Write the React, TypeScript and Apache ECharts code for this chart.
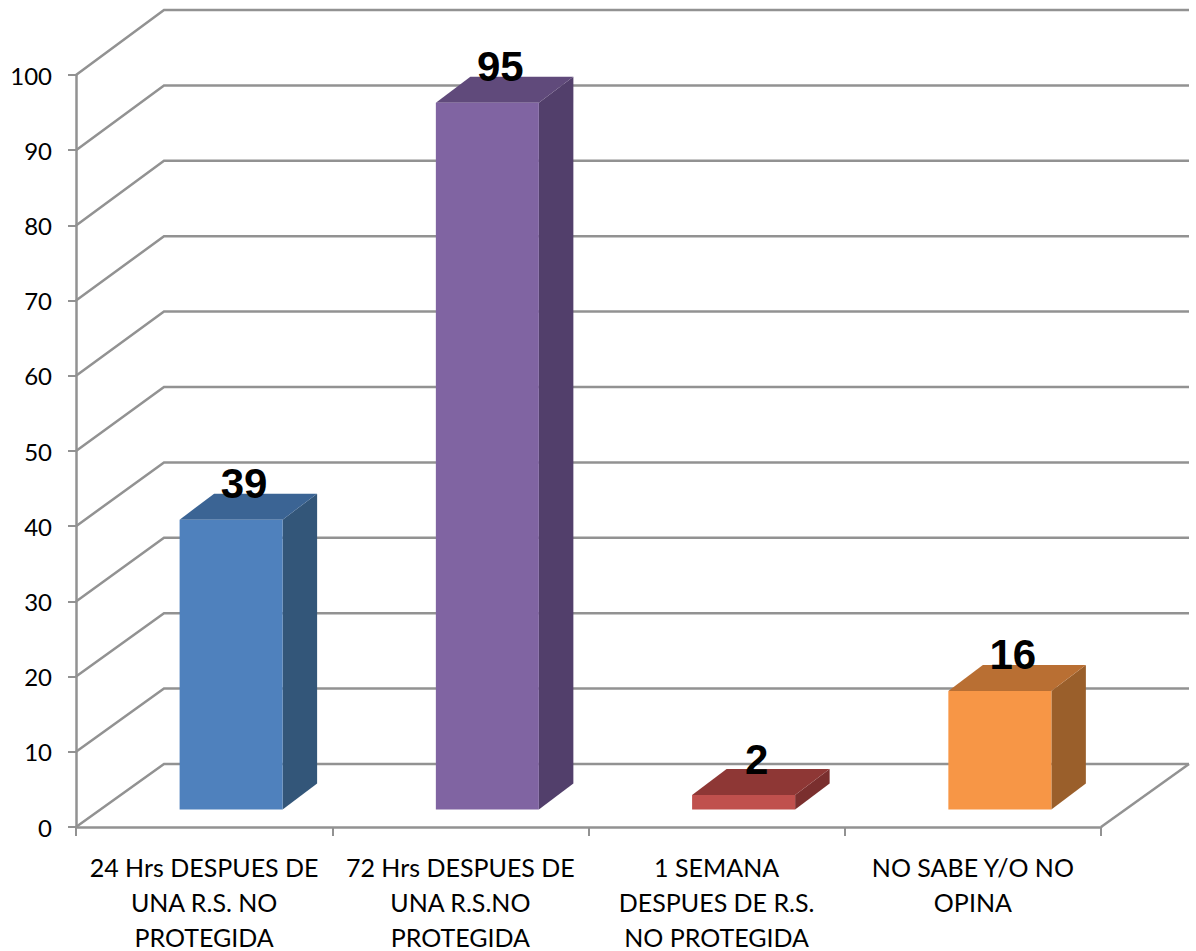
import React, { useEffect, useRef } from "react";
import * as echarts from "echarts";

const categories = [
  "24 Hrs DESPUES DE\nUNA R.S. NO\nPROTEGIDA",
  "72 Hrs DESPUES DE\nUNA R.S.NO\nPROTEGIDA",
  "1 SEMANA\nDESPUES DE R.S.\nNO PROTEGIDA",
  "NO SABE Y/O NO\nOPINA",
];
const values = [39, 95, 2, 16];
const frontColors = ["#4F81BD", "#8064A2", "#C0504D", "#F79646"];
const topColors = ["#3B6494", "#604A7B", "#8E3735", "#B96F33"];
const sideColors = ["#335679", "#523F6B", "#7A2F2E", "#9A5F2B"];
const gridValues = [0, 10, 20, 30, 40, 50, 60, 70, 80, 90, 100];

const AXIS_COLOR = "#929292";
const FONT = "Lato, 'Noto Sans', sans-serif";

// Projection of the 3D box: wall depth and the offset of the bars inside it.
const WALL_DX = 88;
const WALL_DY = -63;
const WALL_DY_TOP = -65;
const BAR_DX = 34.5;
const BAR_DY = -26;

export default function App() {
  const ref = useRef<HTMLDivElement>(null);

  useEffect(() => {
    document.body.style.margin = "0";
    const chart = echarts.init(ref.current!, undefined, { renderer: "svg" });

    const lineStyle = { stroke: AXIS_COLOR, lineWidth: 2.5, fill: "none" };

    const renderWall = (params: any, api: any) => {
      const v = api.value(1);
      const cs = params.coordSys;
      const y = api.coord([0, v])[1];
      const dy = WALL_DY + (WALL_DY_TOP - WALL_DY) * (v / 100);
      const left = cs.x;
      const right = cs.x + cs.width;
      const children: any[] = [
        {
          type: "polyline",
          shape: {
            points: [
              [left, y],
              [left + WALL_DX, y + dy],
              [right + WALL_DX, y + dy],
            ],
          },
          style: lineStyle,
        },
      ];
      if (v === 0) {
        children.push({
          type: "line",
          shape: { x1: right, y1: y, x2: right + WALL_DX, y2: y + dy },
          style: lineStyle,
        });
      }
      return { type: "group", children };
    };

    const renderBar = (params: any, api: any) => {
      const i = params.dataIndex;
      const v = api.value(1);
      const centre = api.coord([api.value(0), 0])[0];
      const band = api.size([1, 0])[0];
      const zeroY = api.coord([0, 0])[1];
      const valueY = api.coord([0, v])[1];
      const x0 = centre - band * 0.0957;
      const x1 = x0 + band * 0.402;
      const bottom = zeroY - 17.5;
      // The bars stand further back than the front plane, so they scale slightly smaller.
      const top = zeroY - 17 + (valueY - zeroY) * 0.99;
      const face = (points: number[][], fill: string) => ({
        type: "polygon",
        shape: { points },
        style: { fill, stroke: "none" },
      });
      return {
        type: "group",
        children: [
          face(
            [
              [x1, top],
              [x1 + BAR_DX, top + BAR_DY],
              [x1 + BAR_DX, bottom + BAR_DY],
              [x1, bottom],
            ],
            sideColors[i],
          ),
          face(
            [
              [x0, top],
              [x0 + BAR_DX, top + BAR_DY],
              [x1 + BAR_DX, top + BAR_DY],
              [x1, top],
            ],
            topColors[i],
          ),
          face(
            [
              [x0, top],
              [x1, top],
              [x1, bottom],
              [x0, bottom],
            ],
            frontColors[i],
          ),
          {
            type: "text",
            z2: 10,
            style: {
              text: String(v),
              x: (x0 + x1) / 2 + 13,
              y: top - 36,
              align: "center",
              verticalAlign: "middle",
              font: "bold 42px 'Liberation Sans', Arial, sans-serif",
              fill: "#000000",
            },
          },
        ],
      };
    };

    chart.setOption({
      animation: false,
      backgroundColor: "#ffffff",
      grid: { left: 76, top: 75, width: 1025, height: 752, outerBoundsMode: "none" },
      xAxis: {
        type: "category",
        data: categories,
        boundaryGap: true,
        axisLine: { show: true, lineStyle: { color: AXIS_COLOR, width: 2.5 } },
        axisTick: {
          show: true,
          alignWithLabel: false,
          length: 9,
          lineStyle: { color: AXIS_COLOR, width: 2 },
        },
        axisLabel: {
          interval: 0,
          margin: 22,
          fontFamily: FONT,
          fontSize: 25,
          lineHeight: 35,
          color: "#000000",
          verticalAlign: "top",
        },
      },
      yAxis: {
        type: "value",
        min: 0,
        max: 100,
        interval: 10,
        splitLine: { show: false },
        axisLine: { show: true, lineStyle: { color: AXIS_COLOR, width: 2.5 } },
        axisTick: { show: true, length: 8, lineStyle: { color: AXIS_COLOR, width: 2 } },
        axisLabel: { margin: 24, fontFamily: FONT, fontSize: 24, color: "#000000" },
      },
      series: [
        {
          type: "custom",
          z: 1,
          clip: false,
          silent: true,
          renderItem: renderWall,
          encode: { x: 0, y: 1 },
          data: gridValues.map((v) => [0, v]),
        },
        {
          type: "custom",
          z: 3,
          clip: false,
          silent: true,
          renderItem: renderBar,
          encode: { x: 0, y: 1 },
          data: values.map((v, i) => [i, v]),
        },
      ],
    });

    return () => chart.dispose();
  }, []);

  return <div ref={ref} style={{ width: 1196, height: 951 }} />;
}
